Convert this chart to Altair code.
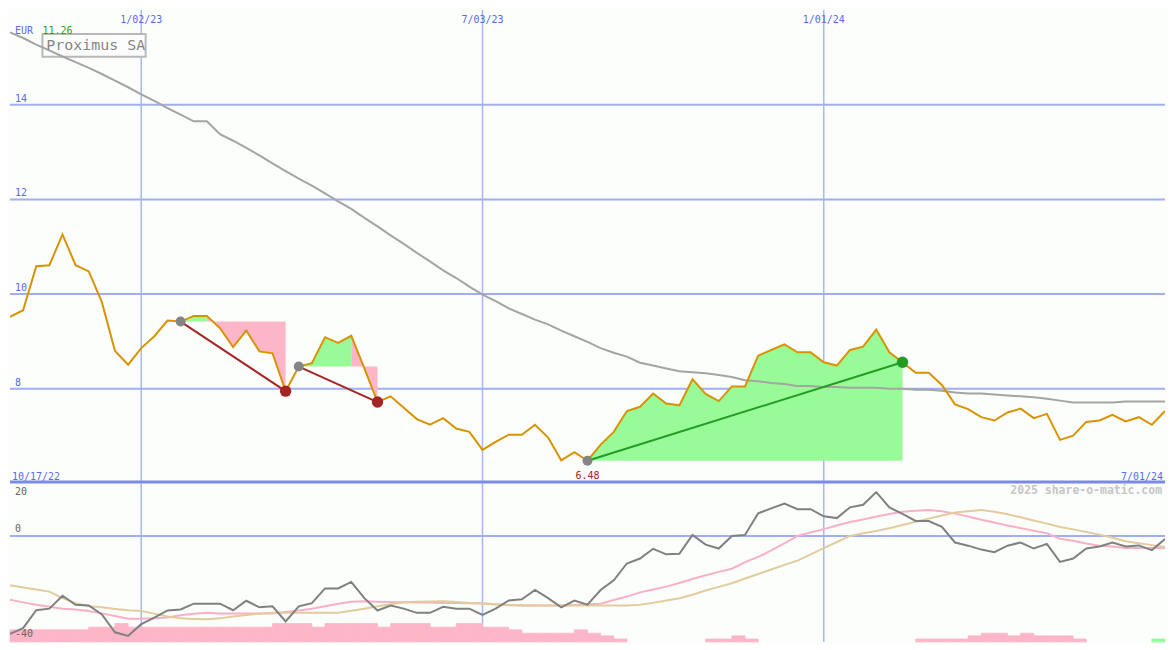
import altair as alt
import pandas as pd

# ---------------- data (weekly) ----------------
dates = pd.date_range("2022-10-24", periods=89, freq="7D")
day = [int((d - dates[0]).days) for d in dates]

price = [9.52, 9.66, 10.59, 10.61, 11.26, 10.61, 10.48, 9.83, 8.80, 8.51,
         8.86, 9.11, 9.44, 9.42, 9.54, 9.54, 9.28, 8.88, 9.23, 8.79,
         8.75, 7.95, 8.47, 8.54, 9.09, 8.97, 9.12, 8.43, 7.72, 7.84,
         7.60, 7.36, 7.24, 7.38, 7.16, 7.09, 6.71, 6.88, 7.03, 7.03,
         7.24, 6.97, 6.49, 6.66, 6.48, 6.82, 7.09, 7.53, 7.62, 7.90,
         7.69, 7.65, 8.20, 7.89, 7.74, 8.05, 8.05, 8.70, 8.82, 8.94,
         8.77, 8.77, 8.56, 8.49, 8.82, 8.89, 9.25, 8.77, 8.56, 8.34,
         8.34, 8.08, 7.67, 7.57, 7.40, 7.33, 7.50, 7.58, 7.38, 7.47,
         6.92, 7.01, 7.30, 7.33, 7.45, 7.31, 7.40, 7.24, 7.53]

ma_long = [15.53, 15.41, 15.27, 15.15, 15.02, 14.90, 14.78, 14.65, 14.51, 14.37,
           14.22, 14.08, 13.93, 13.79, 13.65, 13.65, 13.38, 13.24, 13.09, 12.93,
           12.76, 12.60, 12.44, 12.29, 12.13, 11.96, 11.80, 11.61, 11.43, 11.24,
           11.06, 10.87, 10.69, 10.50, 10.34, 10.16, 9.99, 9.85, 9.70, 9.58,
           9.46, 9.36, 9.23, 9.11, 8.99, 8.86, 8.76, 8.68, 8.55, 8.49,
           8.43, 8.37, 8.35, 8.33, 8.29, 8.25, 8.18, 8.16, 8.12, 8.10,
           8.06, 8.06, 8.04, 8.04, 8.02, 8.02, 8.02, 8.00, 8.00, 7.98,
           7.98, 7.96, 7.92, 7.90, 7.90, 7.88, 7.86, 7.84, 7.82, 7.79,
           7.75, 7.71, 7.71, 7.71, 7.71, 7.73, 7.73, 7.73, 7.73]

osc = [-37.3, -35.1, -28.3, -27.7, -22.8, -26.2, -26.5, -29.9, -36.7, -38.1,
       -33.6, -31.1, -28.4, -28.0, -25.8, -25.8, -25.8, -28.3, -24.7, -27.2,
       -26.8, -32.6, -26.8, -25.6, -20.0, -20.0, -17.5, -23.7, -28.4, -26.5,
       -27.7, -29.3, -29.3, -27.0, -27.7, -27.7, -30.1, -27.7, -24.6, -24.1,
       -20.6, -23.7, -27.2, -24.6, -26.2, -20.6, -16.9, -10.5, -8.6, -4.9,
       -7.0, -6.8, 0.4, -3.3, -4.8, 0.0, 0.4, 8.6, 10.5, 12.3,
       10.2, 10.2, 7.5, 6.8, 10.9, 11.9, 16.7, 10.9, 8.4, 5.7,
       5.7, 3.5, -2.5, -3.7, -5.2, -6.2, -3.7, -2.5, -4.8, -3.0,
       -9.9, -8.6, -4.8, -4.0, -2.5, -4.0, -3.6, -5.4, -1.2]

osc_fast = [-24.3, -25.3, -26.2, -27.0, -27.7, -28.0, -28.6, -29.5, -30.5, -31.5,
            -31.5, -31.4, -31.1, -30.2, -29.6, -29.3, -29.5, -29.5, -29.5, -29.5,
            -29.5, -29.0, -28.4, -27.7, -26.8, -25.8, -25.1, -24.9, -25.1, -25.2,
            -25.3, -25.4, -25.4, -25.5, -25.5, -25.6, -25.6, -26.0, -26.4, -26.5,
            -26.5, -26.5, -26.5, -26.3, -26.0, -25.8, -24.4, -23.1, -21.5, -20.4,
            -19.3, -17.9, -16.4, -15.0, -13.7, -12.5, -10.0, -8.0, -5.5, -2.8,
            0.0, 1.3, 2.6, 4.0, 5.3, 6.3, 7.4, 8.4, 9.2, 9.6,
            9.9, 9.4, 8.5, 7.4, 6.2, 5.1, 4.0, 3.0, 2.0, 1.0,
            -1.1, -1.8, -2.9, -3.7, -4.0, -4.6, -4.6, -4.6, -4.6]

osc_slow = [-18.8, -19.6, -20.4, -21.2, -23.7, -25.6, -26.8, -27.2, -27.8, -28.3,
            -28.6, -29.6, -30.7, -31.4, -31.6, -31.7, -31.4, -30.7, -30.1, -29.6,
            -29.3, -29.3, -29.3, -29.3, -29.3, -29.3, -28.5, -27.7, -26.8, -26.0,
            -25.3, -25.1, -25.0, -24.9, -25.2, -25.5, -25.8, -26.1, -26.3, -26.4,
            -26.5, -26.5, -26.5, -26.5, -26.5, -26.5, -26.5, -26.5, -26.2, -25.5,
            -24.6, -23.7, -22.4, -20.8, -19.4, -18.0, -16.2, -14.5, -12.8, -11.0,
            -9.4, -7.0, -4.6, -2.3, 0.0, 1.0, 1.9, 2.9, 4.2, 5.4,
            6.6, 7.8, 8.9, 9.4, 9.9, 9.2, 8.3, 7.1, 5.9, 4.7,
            3.4, 2.5, 1.5, 0.5, -0.7, -2.0, -2.8, -3.5, -4.2]

hist = [-4.6, -4.6, -4.6, -4.6, -4.6, -4.6, -5.6, -5.6, -7.0, -5.6,
        -5.6, -5.6, -5.6, -5.6, -5.6, -5.6, -5.6, -5.6, -5.6, -5.6,
        -7.0, -7.0, -7.0, -5.6, -7.0, -7.0, -7.0, -7.0, -5.6, -7.0,
        -7.0, -7.0, -5.6, -5.6, -7.0, -7.0, -5.6, -5.6, -4.6, -3.3,
        -3.3, -3.3, -3.3, -4.6, -3.3, -2.3, -1.1, 0, 0, 0,
        0, 0, 0, -1.1, -1.1, -2.3, -1.1, 0, 0, 0,
        0, 0, 0, 0, 0, 0, 0, 0, 0, -1.1,
        -1.1, -1.1, -1.1, -2.3, -3.3, -3.3, -2.3, -3.3, -2.3, -2.3,
        -2.3, -1.1, 0, 0, 0, 0, 0, 1.1]

trends = [(13, 21), (22, 28), (44, 68)]
price_ticks = [8, 10, 12, 14]
grid_dates = ["2023-01-02", "2023-07-03", "2024-01-01"]
grid_labels = ["1/02/23", "7/03/23", "1/01/24"]
first_label, last_label = "10/17/22", "7/01/24"
title_text = "Proximus SA"
currency = "EUR"
watermark = "2025 share-o-matic.com"

# ---------------- layout / style ----------------
W, H1, H2 = 1159, 475, 159
SX, SY1, SY2 = W / 1175, H1 / 487, H2 / 163
FONT = "DejaVu Sans Mono"
BG = "#fbfefb"
BLUE_TXT = "#5a6af0"
HGRID = "#a2aef2"
VGRID = "#aab6f8"
SEP = "#7a8ae8"
ORANGE = "#d99200"
GRAYMA = "#a4a4a4"
GREEN_FILL = "#98fb98"
PINK_FILL = "#fdb6c8"
LOSS = "#a52424"
GAIN = "#249c24"

xs = alt.Scale(domain=[0, 616], nice=False, zero=False)
ys1 = alt.Scale(domain=[6, 16], nice=False, zero=False)
BOTTOM = -40.37
ys2 = alt.Scale(domain=[BOTTOM, 20], nice=False, zero=False)

df = pd.DataFrame({"day": day, "price": price, "ma": ma_long, "osc": osc,
                   "fast": osc_fast, "slow": osc_slow})
grid_days = [int((pd.Timestamp(d) - dates[0]).days) for d in grid_dates]
gdf = pd.DataFrame({"day": grid_days, "lab": grid_labels})
one = pd.DataFrame({"a": [0]})

X = lambda f="day": alt.X(f"{f}:Q", scale=xs, axis=None)

# trend fills: each run of weeks ending on the same side of the start level
arows, lrows, srows, erows = [], [], [], []
for s, e in trends:
    lvl = price[s]
    col = GAIN if price[e] > price[s] else LOSS
    runs = []
    for i in range(s, e):
        fill = GREEN_FILL if price[i + 1] >= lvl else PINK_FILL
        if runs and runs[-1][2] == fill:
            runs[-1][1] = i + 1
        else:
            runs.append([i, i + 1, fill])
    for r, (a, b, fill) in enumerate(runs):
        for j in range(a, b + 1):
            arows.append({"seg": f"{s}-{r}", "day": day[j], "price": price[j], "lvl": lvl, "col": fill})
    lrows.append({"tid": s, "day": day[s], "price": price[s], "col": col})
    lrows.append({"tid": s, "day": day[e], "price": price[e], "col": col})
    srows.append({"day": day[s], "price": price[s]})
    erows.append({"day": day[e], "price": price[e], "col": col})
adf, ldf, sdf, edf = map(pd.DataFrame, (arows, lrows, srows, erows))


def txt(text, x, y, color, size=10, align="left", weight="normal"):
    return alt.Chart(pd.DataFrame({"t": [text]})).mark_text(
        align=align, baseline="alphabetic", font=FONT, fontSize=size,
        color=color, fontWeight=weight).encode(
        x=alt.value(x), y=alt.value(y), text="t:N")


# ---------------- top panel ----------------
vgrid_top = alt.Chart(gdf).mark_rule(color=VGRID, strokeWidth=1.5).encode(x=X())
hgrid = alt.Chart(pd.DataFrame({"v": price_ticks})).mark_rule(
    color=HGRID, strokeWidth=2).encode(y=alt.Y("v:Q", scale=ys1, axis=None))
sep = alt.Chart(one).mark_rule(color=SEP, strokeWidth=3).encode(y=alt.value(H1 - 1.5))
box = alt.Chart(one).mark_rect(fill="#fdfdfd", stroke="#b8b8b8", strokeWidth=2).encode(
    x=alt.value(33 * SX), x2=alt.value(138 * SX), y=alt.value(24.5 * SY1), y2=alt.value(48 * SY1))
areas = alt.Chart(adf).mark_area(opacity=1, clip=True).encode(
    x=X(), y=alt.Y("price:Q", scale=ys1, axis=None), y2="lvl:Q",
    color=alt.Color("col:N", scale=None), detail="seg:N")
ma_line = alt.Chart(df).mark_line(color=GRAYMA, strokeWidth=2, clip=True).encode(
    x=X(), y=alt.Y("ma:Q", scale=ys1, axis=None))
price_line = alt.Chart(df).mark_line(color=ORANGE, strokeWidth=2, clip=True).encode(
    x=X(), y=alt.Y("price:Q", scale=ys1, axis=None))
trend_lines = alt.Chart(ldf).mark_line(strokeWidth=2).encode(
    x=X(), y=alt.Y("price:Q", scale=ys1, axis=None),
    color=alt.Color("col:N", scale=None), detail="tid:N")
start_dots = alt.Chart(sdf).mark_circle(size=100, opacity=1, color="#848484").encode(
    x=X(), y=alt.Y("price:Q", scale=ys1, axis=None))
end_dots = alt.Chart(edf).mark_circle(size=130, opacity=1).encode(
    x=X(), y=alt.Y("price:Q", scale=ys1, axis=None),
    color=alt.Color("col:N", scale=None))

tick_labels = alt.Chart(pd.DataFrame({"v": price_ticks, "t": [str(v) for v in price_ticks]})).mark_text(
    align="left", baseline="alphabetic", font=FONT, fontSize=10, color=BLUE_TXT, dy=-3).encode(
    x=alt.value(5 * SX), y=alt.Y("v:Q", scale=ys1, axis=None), text="t:N")
date_labels = alt.Chart(gdf).mark_text(
    align="center", baseline="alphabetic", font=FONT, fontSize=10, color=BLUE_TXT).encode(
    x=X(), y=alt.value(13 * SY1), text="lab:N")
low_df = pd.DataFrame({"day": [day[44]], "t": [f"{price[44]:.2f}"]})
low_label = alt.Chart(low_df).mark_text(
    align="center", baseline="alphabetic", font=FONT, fontSize=10, color=LOSS).encode(
    x=X(), y=alt.value(482 * SY1), text="t:N")

top = alt.layer(
    vgrid_top, hgrid, sep, box, areas, ma_line, price_line, trend_lines, start_dots, end_dots,
    tick_labels, date_labels, low_label,
    txt(currency, 5 * SX, 25 * SY1, BLUE_TXT),
    txt(f"{max(price):.2f}", 33 * SX, 25 * SY1, "#22a622"),
    txt(title_text, 37 * SX, 41 * SY1, "#858585", size=15),
    txt(first_label, 2 * SX, 483 * SY1, BLUE_TXT),
    txt(last_label, 1173 * SX, 483 * SY1, BLUE_TXT, align="right"),
).properties(width=W, height=H1)

# ---------------- bottom panel ----------------
hdf = pd.DataFrame({"x0": day[:-1], "x1": day[1:], "h": hist})
hdf = hdf[hdf["h"] != 0].copy()
hdf["y0"] = BOTTOM
hdf["y1"] = BOTTOM + hdf["h"].abs()
hdf["col"] = [GREEN_FILL if h > 0 else PINK_FILL for h in hdf["h"]]

vgrid_bot = alt.Chart(gdf).mark_rule(color=VGRID, strokeWidth=1.5).encode(x=X())
zero_line = alt.Chart(pd.DataFrame({"v": [0]})).mark_rule(color=HGRID, strokeWidth=2).encode(
    y=alt.Y("v:Q", scale=ys2, axis=None))
bars = alt.Chart(hdf).mark_rect(strokeWidth=0.8).encode(
    x=X("x0"), x2="x1:Q", y=alt.Y("y0:Q", scale=ys2, axis=None), y2="y1:Q",
    fill=alt.Fill("col:N", scale=None), stroke=alt.Stroke("col:N", scale=None))
fast_line = alt.Chart(df).mark_line(color="#f9b0c6", strokeWidth=2, clip=True).encode(
    x=X(), y=alt.Y("fast:Q", scale=ys2, axis=None))
slow_line = alt.Chart(df).mark_line(color="#e2cb9c", strokeWidth=2, clip=True).encode(
    x=X(), y=alt.Y("slow:Q", scale=ys2, axis=None))
osc_line = alt.Chart(df).mark_line(color="#808080", strokeWidth=2, clip=True).encode(
    x=X(), y=alt.Y("osc:Q", scale=ys2, axis=None))

bottom = alt.layer(
    vgrid_bot, zero_line, bars, fast_line, slow_line, osc_line,
    txt("20", 5 * SX, 12 * SY2, "#666666"),
    txt("0", 5 * SX, 50 * SY2, "#666666"),
    txt("-40", 5 * SX, 158 * SY2, "#666666"),
    txt(watermark, 1172 * SX, 11 * SY2, "#c6c6c6", size=11.5, align="right", weight="bold"),
).properties(width=W, height=H2)

chart = alt.vconcat(top, bottom, spacing=0, bounds="flush").properties(
    padding=0, background=BG).configure_view(strokeWidth=0)

chart.save("out.html", embed_options={"renderer": "svg", "actions": False})
